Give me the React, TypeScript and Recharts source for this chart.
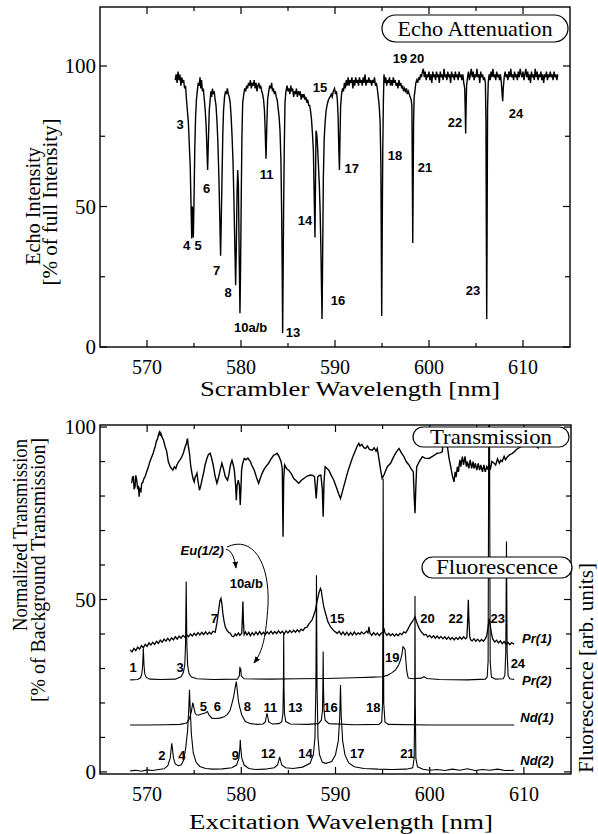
import { ComposedChart, Line, Scatter, XAxis, YAxis } from "recharts";

type Pt = [number, number];
type Tag = [number, number, string];

// ---- top panel: echo intensity vs scrambler wavelength ----
const echo: Pt[] = [
  [573.0, 95], [573.1, 97], [573.2, 94], [573.3, 98], [573.4, 95], [573.5, 97], [573.6, 93], [573.7, 96],
  [573.8, 94], [573.9, 95], [574.0, 92], [574.1, 93], [574.2, 88], [574.3, 84], [574.4, 80], [574.5, 72],
  [574.6, 64], [574.7, 48], [574.76, 38.6], [574.82, 50], [574.88, 45], [574.93, 39], [575.0, 52], [575.08, 70],
  [575.17, 82], [575.26, 88], [575.35, 91], [575.45, 94], [575.55, 93], [575.64, 96], [575.72, 92], [575.8, 95],
  [575.9, 91], [575.99, 92], [576.1, 88], [576.2, 84], [576.3, 78], [576.38, 70], [576.45, 63], [576.52, 72],
  [576.62, 84], [576.72, 88], [576.8, 91], [576.88, 89], [576.96, 92], [577.05, 90], [577.15, 91], [577.25, 88],
  [577.34, 86], [577.45, 80], [577.55, 72], [577.65, 60], [577.75, 45], [577.83, 32.5], [577.9, 45], [577.98, 60],
  [578.06, 75], [578.14, 84], [578.25, 89], [578.35, 91], [578.45, 90], [578.55, 92], [578.65, 90], [578.75, 89],
  [578.85, 87], [578.95, 82], [579.05, 75], [579.15, 66], [579.25, 52], [579.35, 35], [579.43, 22], [579.5, 35],
  [579.58, 55], [579.65, 63], [579.72, 58], [579.8, 35], [579.89, 12], [579.96, 30], [580.03, 55], [580.1, 75],
  [580.18, 87], [580.3, 90], [580.4, 92], [580.5, 91], [580.6, 93], [580.7, 92], [580.8, 94], [580.9, 93],
  [581.0, 95], [581.1, 92], [581.2, 94], [581.3, 93], [581.4, 95], [581.5, 92], [581.6, 94], [581.7, 91],
  [581.8, 93], [581.9, 94], [582.0, 92], [582.1, 93], [582.2, 91], [582.3, 90], [582.4, 88], [582.5, 84],
  [582.58, 76], [582.66, 67], [582.74, 78], [582.83, 88], [582.95, 91], [583.05, 93], [583.15, 92], [583.26, 94],
  [583.35, 91], [583.45, 92], [583.55, 90], [583.65, 91], [583.75, 89], [583.85, 88], [583.95, 85], [584.05, 82],
  [584.15, 77], [584.25, 66], [584.33, 46], [584.39, 25], [584.43, 5], [584.48, 25], [584.53, 48], [584.6, 70],
  [584.68, 87], [584.78, 91], [584.9, 93], [585.0, 91], [585.1, 92], [585.2, 90], [585.3, 93], [585.4, 91],
  [585.5, 92], [585.6, 89], [585.7, 91], [585.8, 90], [585.9, 92], [586.0, 89], [586.1, 91], [586.2, 90],
  [586.3, 91], [586.4, 88], [586.5, 90], [586.6, 89], [586.7, 90], [586.8, 88], [586.9, 89], [587.0, 87],
  [587.1, 88], [587.2, 86], [587.3, 86], [587.4, 84], [587.5, 81], [587.6, 76], [587.7, 70], [587.78, 55],
  [587.87, 39], [587.93, 60], [587.98, 77], [588.05, 76], [588.12, 73], [588.22, 66], [588.33, 58], [588.42, 48],
  [588.5, 35], [588.57, 20], [588.62, 10], [588.68, 30], [588.76, 60], [588.85, 74], [588.95, 80], [589.05, 84],
  [589.15, 86], [589.3, 88], [589.47, 89], [589.6, 90], [589.7, 89], [589.82, 91], [589.95, 92], [590.05, 90],
  [590.15, 91], [590.25, 88], [590.33, 82], [590.41, 70], [590.47, 63], [590.52, 72], [590.6, 86], [590.7, 90],
  [590.8, 92], [590.9, 91], [591.0, 94], [591.1, 92], [591.2, 95], [591.3, 93], [591.4, 96], [591.5, 93],
  [591.6, 95], [591.7, 94], [591.8, 96], [591.9, 92], [592.0, 95], [592.1, 93], [592.2, 96], [592.3, 94],
  [592.4, 95], [592.5, 93], [592.6, 96], [592.7, 94], [592.8, 95], [592.9, 93], [593.0, 96], [593.1, 94],
  [593.2, 97], [593.3, 93], [593.4, 95], [593.5, 94], [593.6, 96], [593.7, 94], [593.8, 95], [593.9, 93],
  [594.0, 95], [594.1, 94], [594.2, 96], [594.3, 93], [594.4, 94], [594.5, 92], [594.6, 89], [594.7, 86],
  [594.8, 80], [594.88, 65], [594.93, 35], [594.97, 11], [595.02, 40], [595.08, 70], [595.15, 88], [595.21, 97],
  [595.3, 94], [595.4, 96], [595.5, 93], [595.6, 95], [595.7, 94], [595.8, 96], [595.9, 93], [596.0, 95],
  [596.1, 93], [596.2, 96], [596.3, 94], [596.4, 95], [596.5, 93], [596.6, 94], [596.7, 92], [596.8, 95],
  [596.9, 93], [597.0, 94], [597.1, 92], [597.2, 93], [597.3, 91], [597.4, 92], [597.5, 91], [597.6, 92],
  [597.7, 90], [597.8, 91], [597.9, 90], [598.0, 89], [598.1, 88], [598.18, 86], [598.23, 60], [598.27, 37],
  [598.31, 55], [598.36, 80], [598.42, 89], [598.5, 91], [598.6, 94], [598.7, 95], [598.8, 94], [598.9, 96],
  [599.0, 95], [599.1, 97], [599.2, 96], [599.3, 98], [599.4, 99], [599.5, 96], [599.6, 98], [599.7, 95],
  [599.8, 97], [599.9, 96], [600.0, 98], [600.1, 95], [600.2, 97], [600.3, 94], [600.4, 98], [600.5, 96],
  [600.6, 97], [600.7, 95], [600.8, 98], [600.9, 96], [601.0, 97], [601.1, 94], [601.2, 98], [601.3, 96],
  [601.4, 97], [601.5, 95], [601.6, 99], [601.7, 96], [601.8, 97], [601.9, 95], [602.0, 98], [602.1, 96],
  [602.2, 97], [602.3, 94], [602.4, 98], [602.5, 96], [602.6, 97], [602.7, 95], [602.8, 98], [602.9, 96],
  [603.0, 97], [603.1, 95], [603.2, 98], [603.3, 96], [603.4, 97], [603.5, 95], [603.6, 97], [603.7, 94],
  [603.8, 92], [603.85, 85], [603.9, 76], [603.95, 86], [604.0, 93], [604.1, 96], [604.2, 98], [604.3, 95],
  [604.4, 97], [604.5, 99], [604.6, 96], [604.7, 98], [604.8, 95], [604.9, 97], [605.0, 96], [605.1, 99],
  [605.2, 96], [605.3, 97], [605.4, 94], [605.5, 98], [605.6, 96], [605.7, 97], [605.8, 95], [605.9, 96],
  [606.0, 94], [606.06, 80], [606.1, 40], [606.14, 10], [606.18, 40], [606.23, 85], [606.3, 94], [606.4, 97],
  [606.5, 95], [606.6, 98], [606.7, 96], [606.8, 99], [606.9, 96], [607.0, 97], [607.1, 95], [607.2, 98],
  [607.3, 96], [607.4, 97], [607.5, 95], [607.6, 97], [607.7, 94], [607.78, 90], [607.84, 87.5], [607.9, 92],
  [608.0, 96], [608.1, 98], [608.2, 96], [608.3, 97], [608.4, 95], [608.5, 98], [608.6, 96], [608.7, 99],
  [608.8, 96], [608.9, 97], [609.0, 95], [609.1, 98], [609.2, 96], [609.3, 97], [609.4, 95], [609.5, 98],
  [609.6, 96], [609.7, 99], [609.8, 97], [609.9, 96], [610.0, 98], [610.1, 95], [610.2, 97], [610.3, 99],
  [610.4, 96], [610.5, 98], [610.6, 95], [610.7, 97], [610.8, 94], [610.9, 98], [611.0, 96], [611.1, 97],
  [611.2, 95], [611.3, 99], [611.4, 96], [611.5, 98], [611.6, 95], [611.7, 97], [611.8, 96], [611.9, 98],
  [612.0, 95], [612.1, 97], [612.2, 94], [612.3, 97], [612.4, 96], [612.5, 98], [612.6, 95], [612.7, 97],
  [612.8, 96], [612.9, 98], [613.0, 96], [613.1, 97], [613.2, 95], [613.3, 98], [613.4, 96], [613.5, 97],
  [613.6, 95], [613.7, 97],
];

const echoTags: Tag[] = [
  [573.51, 79.4, "3"], [574.22, 36.3, "4"], [575.43, 36.3, "5"], [576.35, 56.6, "6"], [577.41, 27.4, "7"],
  [578.62, 19.6, "8"], [581.03, 7.1, "10a/b"], [582.73, 61.6, "11"], [585.53, 5.3, "13"], [586.81, 45.2, "14"],
  [588.4, 92.5, "15"], [590.32, 16.7, "16"], [591.78, 63.7, "17"], [596.38, 68.3, "18"], [596.91, 102.8, "19"],
  [598.72, 102.8, "20"], [599.57, 64.1, "21"], [602.77, 80.1, "22"], [604.68, 20.3, "23"], [609.26, 83.3, "24"],
];

// ---- bottom panel: transmission and fluorescence traces ----
const transmission: Pt[] = [
  [568.37, 83.7], [568.45, 85.5], [568.55, 85.6], [568.62, 82], [568.72, 82.7], [568.8, 86], [568.9, 84.6],
  [569.0, 82], [569.08, 83], [569.15, 79.8], [569.25, 82], [569.35, 81.5], [569.43, 83.7], [569.55, 84],
  [569.65, 85], [569.79, 85.6], [569.95, 87], [570.14, 88.5], [570.3, 90], [570.5, 91.4], [570.65, 92.5],
  [570.85, 94.3], [571.0, 96], [571.1, 96.5], [571.2, 97.7], [571.3, 98.5], [571.4, 97.5], [571.46, 98.2],
  [571.6, 97], [571.74, 96.2], [571.9, 94.5], [572.09, 92.8], [572.25, 90], [572.45, 88.5], [572.6, 88],
  [572.73, 87.5], [572.9, 88.5], [573.05, 88], [573.16, 89], [573.35, 90], [573.5, 90.5], [573.69, 91.4],
  [573.85, 92.5], [574.04, 94.3], [574.15, 95], [574.29, 96.7], [574.35, 95], [574.5, 92.4], [574.62, 89],
  [574.76, 86.6], [574.88, 85], [575.0, 84.1], [575.1, 85.5], [575.2, 86], [575.29, 86.6], [575.42, 84],
  [575.56, 81.7], [575.7, 83], [575.85, 85], [575.99, 86.6], [576.15, 89], [576.35, 90.9], [576.5, 92],
  [576.7, 92.4], [576.85, 91], [577.05, 88.5], [577.2, 86], [577.41, 83.7], [577.55, 85], [577.68, 86.6],
  [577.8, 88], [577.94, 89.5], [578.1, 88], [578.3, 85.6], [578.54, 84.6], [578.7, 86.5], [578.85, 89],
  [579.01, 90.4], [579.15, 89], [579.26, 87.5], [579.4, 83], [579.47, 78.8], [579.55, 83], [579.68, 84.6],
  [579.8, 83], [579.89, 77.4], [579.96, 82], [580.03, 87.5], [580.15, 89.5], [580.32, 90.9], [580.5, 90.5],
  [580.7, 91], [580.96, 90], [581.1, 89], [581.38, 87.5], [581.6, 85.5], [581.84, 83.7], [582.0, 85],
  [582.2, 86.5], [582.37, 87.5], [582.6, 88.5], [582.9, 89.5], [583.1, 90.5], [583.44, 91.9], [583.6, 92],
  [583.8, 92.4], [584.0, 91.5], [584.22, 90], [584.35, 88], [584.43, 68.2], [584.5, 85], [584.6, 89],
  [584.8, 88], [585.03, 87.5], [585.3, 86.5], [585.57, 85.1], [585.8, 84.5], [586.1, 83.7], [586.35, 84.5],
  [586.63, 85.1], [587.0, 85.8], [587.34, 86.1], [587.6, 86], [587.77, 85.6], [587.88, 82], [587.95, 79.3],
  [588.02, 82], [588.12, 85.6], [588.3, 86], [588.45, 86.1], [588.6, 82], [588.69, 74], [588.78, 84],
  [588.9, 88.5], [589.1, 88], [589.29, 87.5], [589.55, 86], [589.82, 84.6], [590.1, 82.5], [590.35, 80.5],
  [590.53, 79.3], [590.75, 81.5], [591.06, 84.6], [591.3, 87], [591.6, 89.5], [591.85, 91.5], [592.13, 93.3],
  [592.3, 94.5], [592.48, 95.3], [592.6, 94.5], [592.8, 95], [593.0, 94], [593.19, 93.8], [593.4, 94.5],
  [593.6, 93.5], [593.9, 93.3], [594.1, 94], [594.3, 93], [594.43, 93.8], [594.6, 91], [594.79, 87.5],
  [594.95, 85.1], [595.14, 86.1], [595.35, 87.5], [595.5, 88.5], [595.85, 89.5], [596.1, 91], [596.4, 92.5],
  [596.74, 93.8], [597.0, 92.5], [597.27, 91.4], [597.5, 90], [597.8, 89], [598.0, 88], [598.26, 87],
  [598.35, 80], [598.44, 75], [598.52, 82], [598.62, 88.5], [598.9, 90], [599.22, 91.4], [599.5, 91],
  [599.93, 90.9], [600.3, 91.5], [600.8, 92.4], [601.1, 92.5], [601.33, 92.8], [601.45, 96], [601.52, 100],
  [601.6, 99], [601.88, 94.3], [602.05, 91], [602.23, 88.5], [602.4, 86], [602.58, 84.1], [602.7, 87],
  [602.8, 85.5], [602.94, 88.5], [603.05, 87], [603.2, 90.5], [603.3, 88.5], [603.47, 91.4], [603.6, 89],
  [603.75, 91.5], [603.9, 88.5], [604.0, 90], [604.15, 88], [604.3, 90.5], [604.45, 88], [604.6, 90],
  [604.7, 88], [604.85, 89.5], [605.0, 87.5], [605.15, 89.5], [605.3, 87.5], [605.43, 89], [605.6, 87],
  [605.75, 89], [605.9, 87], [606.05, 88.5], [606.13, 88], [606.3, 89], [606.45, 88], [606.6, 90],
  [606.84, 89.5], [607.0, 89], [607.2, 90.8], [607.4, 89.5], [607.55, 90.4], [607.7, 90], [607.9, 91.5],
  [608.05, 90.5], [608.26, 91.4], [608.5, 92], [608.7, 92.2], [608.97, 92.8], [609.2, 93.5], [609.5, 94],
  [609.8, 94.5], [610.0, 94.8], [610.3, 95], [610.6, 94.5], [610.8, 95.5], [611.1, 95.3], [611.3, 94.5],
  [611.6, 93.8],
];

const pr1: Pt[] = [
  [568.2, 35.4], [568.4, 34.8], [568.6, 35.8], [568.8, 35.2], [569.0, 36.2], [569.2, 35.6], [569.4, 36.6],
  [569.6, 36], [569.8, 37], [570.0, 36.4], [570.2, 37.4], [570.4, 36.8], [570.6, 37.6], [570.8, 37],
  [571.0, 37.9], [571.2, 37.3], [571.4, 38.2], [571.6, 37.6], [571.8, 38.5], [572.0, 37.9], [572.2, 38.7],
  [572.4, 38], [572.6, 38.9], [572.8, 38.3], [573.0, 39.2], [573.2, 38.5], [573.4, 39.4], [573.6, 38.8],
  [573.8, 39.6], [574.0, 39.1], [574.2, 39.8], [574.4, 39.2], [574.6, 40], [574.8, 39.4], [575.0, 40.2],
  [575.2, 39.6], [575.4, 40.4], [575.6, 39.7], [575.8, 40.5], [576.0, 39.8], [576.2, 40.6], [576.4, 39.9],
  [576.6, 40.5], [576.8, 40], [577.0, 40.8], [577.23, 40.5], [577.4, 43], [577.6, 47], [577.72, 49.5],
  [577.84, 50.3], [577.95, 48.5], [578.04, 46], [578.15, 44], [578.3, 42], [578.5, 41], [578.65, 40.5],
  [578.83, 40.2], [579.0, 39.4], [579.18, 39.2], [579.35, 40], [579.5, 39.5], [579.7, 40.3], [579.85, 39.6],
  [580.05, 40.2], [580.12, 45], [580.17, 49.4], [580.22, 44], [580.3, 39.8], [580.45, 40.6], [580.6, 39.7],
  [580.8, 40.5], [580.96, 39.5], [581.15, 40.4], [581.35, 39.7], [581.55, 40.6], [581.75, 39.8], [581.95, 40.7],
  [582.15, 39.9], [582.35, 40.5], [582.55, 39.8], [582.75, 40.6], [582.95, 40], [583.15, 40.8], [583.35, 40],
  [583.55, 40.7], [583.75, 40.1], [583.95, 40.9], [584.15, 40.2], [584.35, 40.8], [584.55, 40], [584.75, 40.9],
  [584.95, 40.3], [585.15, 41], [585.35, 40.4], [585.55, 41.1], [585.75, 40.5], [585.95, 41.2], [586.15, 40.6],
  [586.35, 41.4], [586.55, 41], [586.75, 41.8], [586.98, 42], [587.2, 43], [587.5, 44], [587.7, 45.5],
  [587.87, 47], [588.05, 49.5], [588.23, 51.8], [588.4, 53.2], [588.5, 52.5], [588.58, 50.8], [588.75, 48],
  [588.94, 46], [589.2, 43.5], [589.47, 42.1], [589.8, 41], [590.18, 40.2], [590.4, 40.8], [590.6, 39.8],
  [590.8, 40.6], [591.0, 39.7], [591.2, 40.5], [591.4, 39.6], [591.6, 40.4], [591.8, 39.7], [592.0, 40.6],
  [592.2, 39.8], [592.4, 40.3], [592.6, 39.9], [592.75, 40.6], [593.0, 40], [593.3, 40.8], [593.45, 40.3],
  [593.55, 42.1], [593.65, 40.3], [593.85, 39.6], [594.05, 40.4], [594.25, 39.7], [594.45, 40.3], [594.65, 39.5],
  [594.85, 40.2], [595.05, 40.6], [595.14, 41.7], [595.25, 40.4], [595.45, 39.6], [595.65, 40.2], [595.85, 39.5],
  [596.05, 40.1], [596.25, 39.4], [596.45, 40], [596.65, 39.5], [596.85, 40.2], [597.05, 39.8], [597.25, 40.6],
  [597.45, 40.3], [597.65, 41.2], [597.85, 42.3], [598.0, 43], [598.15, 43.6], [598.3, 44.2], [598.44, 45],
  [598.55, 44], [598.7, 42.8], [598.87, 41.7], [599.05, 40.8], [599.2, 40.3], [599.4, 39.7], [599.6, 39.9],
  [599.8, 39.1], [600.0, 39.6], [600.2, 38.9], [600.4, 39.5], [600.6, 38.8], [600.8, 39.4], [601.0, 38.7],
  [601.2, 39.3], [601.4, 38.6], [601.6, 39.2], [601.8, 38.5], [602.0, 39.1], [602.2, 38.4], [602.4, 39],
  [602.6, 38.3], [602.8, 39], [603.0, 38.4], [603.2, 39.1], [603.4, 38.5], [603.6, 39.2], [603.8, 38.6],
  [603.95, 39], [604.05, 45], [604.1, 49.9], [604.15, 45], [604.25, 39.2], [604.35, 38.3], [604.5, 38],
  [604.7, 38.6], [604.9, 37.9], [605.1, 38.5], [605.3, 37.8], [605.5, 38.4], [605.7, 37.9], [605.9, 38.6],
  [606.05, 39.5], [606.2, 42], [606.3, 44.5], [606.4, 43], [606.55, 40.2], [606.7, 38.5], [606.9, 37.7],
  [607.1, 38.2], [607.3, 37.4], [607.5, 38], [607.7, 37.2], [607.9, 37.8], [608.1, 37], [608.3, 37.6],
  [608.5, 36.9], [608.7, 37.5], [608.97, 37],
];

const pr2: Pt[] = [
  [568.2, 26.7], [569.0, 26.8], [569.3, 27.3], [569.45, 28.5], [569.53, 31], [569.6, 35.8], [569.67, 31],
  [569.75, 28.5], [569.9, 27.4], [570.3, 26.9], [571.5, 26.8], [573.0, 26.9], [573.6, 27.6], [573.85, 28.8],
  [574.0, 31], [574.08, 37], [574.15, 55.2], [574.22, 37], [574.3, 31], [574.45, 28.5], [574.7, 27.5],
  [575.3, 27], [577.0, 26.8], [579.6, 26.9], [579.8, 28], [579.85, 30.5], [579.89, 29], [579.94, 30],
  [580.0, 27.8], [580.3, 27], [583.0, 26.9], [586.0, 27], [589.0, 27.1], [592.0, 27.3], [594.0, 27.5],
  [595.0, 27.6], [595.5, 28], [596.0, 28.8], [596.38, 29.6], [596.7, 31], [596.91, 32.5], [597.05, 34],
  [597.16, 36.3], [597.27, 36], [597.38, 35.5], [597.48, 32], [597.55, 29.6], [597.65, 28], [597.73, 27.2],
  [598.2, 27], [599.1, 27.2], [599.4, 27.6], [599.7, 27.1], [601.0, 26.8], [604.0, 26.7], [605.9, 26.9],
  [606.1, 27.5], [606.2, 32], [606.25, 80], [606.28, 130], [606.34, 130], [606.37, 80], [606.42, 32],
  [606.55, 27.5], [607.0, 26.9], [607.8, 27], [607.98, 28], [608.08, 35], [608.15, 66.8], [608.22, 35],
  [608.32, 28], [608.5, 27], [608.97, 26.8],
];

const nd1: Pt[] = [
  [568.2, 13.6], [570.0, 13.6], [572.0, 13.7], [573.5, 13.8], [574.2, 14.2], [574.5, 15.5], [574.7, 17.5],
  [574.85, 20.1], [574.98, 18.5], [575.1, 17], [575.28, 16.5], [575.5, 16.5], [575.8, 16.8], [576.1, 17],
  [576.3, 17.3], [576.41, 17.5], [576.55, 16.6], [576.87, 15.6], [577.3, 15.5], [577.7, 15.6], [578.12, 15.9],
  [578.5, 16.6], [578.8, 17.8], [579.01, 19.9], [579.2, 22], [579.35, 24.5], [579.47, 26.2], [579.58, 23.5],
  [579.7, 20.5], [579.82, 18.9], [580.05, 16.5], [580.43, 14.6], [581.0, 14], [581.67, 13.8], [582.3, 13.9],
  [582.55, 14.5], [582.65, 16], [582.73, 17], [582.81, 16], [582.92, 14.5], [583.3, 13.9], [584.0, 14],
  [584.3, 14.6], [584.42, 17], [584.47, 25], [584.5, 40.2], [584.53, 25], [584.58, 17], [584.72, 14.6],
  [585.2, 13.9], [587.0, 13.8], [588.2, 14], [588.5, 15], [588.62, 18], [588.66, 25], [588.69, 34.9],
  [588.72, 25], [588.78, 18], [588.9, 15], [589.3, 14], [592.0, 13.7], [594.6, 13.8], [594.9, 14.5],
  [595.0, 20], [595.03, 50], [595.06, 85], [595.09, 50], [595.12, 20], [595.25, 14.5], [595.6, 13.8],
  [600.0, 13.6], [605.0, 13.6], [608.97, 13.6],
];

const nd2: Pt[] = [
  [568.2, 0.3], [568.8, 0.5], [569.4, 0.2], [570.0, 0.6], [570.6, 0.4], [571.2, 0.7], [571.8, 0.9],
  [572.2, 1.8], [572.45, 4], [572.55, 6.5], [572.62, 8.3], [572.7, 6.5], [572.8, 4], [573.0, 2.3],
  [573.3, 1.8], [573.6, 2], [573.9, 3.5], [574.1, 7], [574.3, 12], [574.42, 18], [574.5, 23.8],
  [574.58, 18], [574.7, 11], [574.9, 5.5], [575.2, 2.8], [575.6, 1.6], [576.2, 1], [577.0, 0.8],
  [578.0, 0.9], [579.0, 1.2], [579.5, 2], [579.75, 4], [579.85, 7], [579.89, 9.3], [579.94, 7],
  [580.05, 4], [580.3, 2], [580.8, 1], [581.5, 0.7], [582.5, 0.8], [583.5, 1.2], [583.85, 2],
  [584.0, 3.5], [584.07, 4.4], [584.15, 3.5], [584.3, 2], [584.7, 1.2], [585.5, 1], [586.5, 1.4],
  [587.3, 2.5], [587.65, 5], [587.82, 10], [587.92, 25], [587.98, 57], [588.04, 25], [588.14, 10],
  [588.3, 5], [588.6, 2.8], [589.0, 2.5], [589.6, 3], [590.0, 5], [590.3, 9], [590.45, 16],
  [590.53, 25.2], [590.61, 16], [590.76, 9], [591.0, 5], [591.4, 2.6], [592.0, 1.5], [593.0, 1],
  [594.5, 0.8], [596.0, 0.7], [597.5, 0.8], [598.2, 1.2], [598.35, 4], [598.41, 20], [598.44, 51],
  [598.47, 20], [598.53, 4], [598.7, 1.5], [599.3, 0.8], [600.0, 0.5], [600.8, 0.7], [601.6, 0.4],
  [602.4, 0.8], [603.2, 0.5], [604.0, 0.9], [604.8, 0.4], [605.6, 0.7], [606.4, 0.5], [607.2, 0.8],
  [608.0, 0.4], [608.97, 0.5],
];

const lineTags: Tag[] = [
  [577.13, 44.6, "7"], [580.53, 54.8, "10a/b"], [568.51, 30.4, "1"], [573.51, 30.4, "3"], [575.96, 19.1, "5"],
  [577.45, 19.1, "6"], [580.64, 19.1, "8"], [583.09, 18.8, "11"], [585.74, 18.8, "13"], [589.47, 18.8, "16"],
  [594.01, 18.8, "18"], [571.56, 4.9, "2"], [573.69, 4.9, "4"], [579.36, 4.9, "9"], [582.87, 5.5, "12"],
  [586.81, 5.5, "14"], [592.31, 5.5, "17"], [597.63, 5.5, "21"], [590.18, 44.6, "15"], [596.03, 33.3, "19"],
  [599.76, 44.6, "20"], [602.77, 44.6, "22"], [607.23, 44.6, "23"], [609.36, 31.6, "24"],
];

const seriesTags: Tag[] = [
  [575.85, 64.3, "Eu(1/2)"], [611.38, 38.8, "Pr(1)"], [611.38, 26.7, "Pr(2)"],
  [611.38, 15.9, "Nd(1)"], [611.38, 3.5, "Nd(2)"],
];

const xTicks = [570, 575, 580, 585, 590, 595, 600, 605, 610];
const echoTicks = [0, 25, 50, 75, 100];
const transTicks = [0, 10, 20, 30, 40, 50, 60, 70, 80, 90, 100];
const labelled = [0, 50, 100];

const SERIF = "'Liberation Serif', 'Times New Roman', Times, 'Nimbus Roman', 'DejaVu Serif', serif";
const SANS = "'Liberation Sans', Arial, Helvetica, sans-serif";

const rows = (pts: Pt[]) => pts.map(([x, y]) => ({ x, y }));
const tagRows = (tags: Tag[]) => tags.map(([x, y, t]) => ({ x, y, t }));

// x ticks point inwards; the mirrored tick on the top frame is drawn from the same spot
function BottomTick({ x, y, payload, span }: any) {
  const major = payload.value % 10 === 0;
  const len = major ? 7 : 4;
  return (
    <g>
      <line x1={x} x2={x} y1={y} y2={y - len} stroke="#000" strokeWidth={1.2} />
      <line x1={x} x2={x} y1={y - span} y2={y - span + len} stroke="#000" strokeWidth={1.2} />
      {major && (
        <text x={x} y={y + 27} textAnchor="middle" fontSize={20} fontFamily={SERIF} fill="#000">
          {payload.value}
        </text>
      )}
    </g>
  );
}

function LeftTick({ x, y, payload, span }: any) {
  const major = labelled.includes(payload.value);
  const len = major ? 7 : 5;
  return (
    <g>
      <line x1={x} x2={x + len} y1={y} y2={y} stroke="#000" strokeWidth={1.2} />
      <line x1={x + span} x2={x + span - len} y1={y} y2={y} stroke="#000" strokeWidth={1.2} />
      {major && (
        <text x={x - 4} y={y + 7} textAnchor="end" fontSize={21} fontFamily={SERIF} fill="#000">
          {payload.value}
        </text>
      )}
    </g>
  );
}

function NumTag(p: any) {
  return (
    <text x={p.cx} y={p.cy + 5} textAnchor="middle" fontSize={13} fontWeight="bold" fontFamily={SANS} fill="#000">
      {p.payload.t}
    </text>
  );
}

function SeriesTag(p: any) {
  return (
    <text x={p.cx} y={p.cy + 5} textAnchor="middle" fontSize={13} fontWeight="bold" fontStyle="italic" fontFamily={SANS} fill="#000">
      {p.payload.t}
    </text>
  );
}

function axes(yDomain: [number, number], yTicks: number[], w: number, h: number) {
  return [
    <XAxis key="xb" xAxisId="b" dataKey="x" type="number" domain={[565, 615]} ticks={xTicks} interval={0}
      allowDataOverflow height={30} tickSize={0} tickMargin={0} tickLine={false} axisLine={false}
      tick={<BottomTick span={h} />} />,
    <YAxis key="yl" yAxisId="l" dataKey="y" type="number" domain={yDomain} ticks={yTicks} interval={0}
      allowDataOverflow width={60} tickSize={0} tickMargin={0} tickLine={false} axisLine={false}
      tick={<LeftTick span={w} />} />,
  ];
}

function trace(key: string, pts: Pt[], w: number) {
  return (
    <Line key={key} xAxisId="b" yAxisId="l" data={rows(pts)} dataKey="y" type="linear" stroke="#000"
      strokeWidth={w} dot={false} activeDot={false} isAnimationActive={false} />
  );
}

export default function App() {
  return (
    <div style={{ position: "absolute", left: 0, top: 0, width: 598, height: 834, background: "#fff" }}>
      <div style={{ position: "absolute", left: 0, top: 0 }}>
        <ComposedChart width={598} height={380} margin={{ top: 7, right: 28, bottom: 3, left: 40 }}>
          {axes([0, 121], echoTicks, 470, 340)}
          {trace("echo", echo, 1.4)}
          <Scatter xAxisId="b" yAxisId="l" data={tagRows(echoTags)} dataKey="y" shape={NumTag} isAnimationActive={false} />
        </ComposedChart>
      </div>
      <div style={{ position: "absolute", left: 0, top: 400 }}>
        <ComposedChart width={598} height={434} margin={{ top: 25, right: 27, bottom: 30, left: 40 }}>
          {axes([-0.6, 100.6], transTicks, 471, 349)}
          {trace("trans", transmission, 1.4)}
          {trace("pr1", pr1, 1.3)}
          {trace("pr2", pr2, 1.1)}
          {trace("nd1", nd1, 1.1)}
          {trace("nd2", nd2, 1.1)}
          <Scatter xAxisId="b" yAxisId="l" data={tagRows(lineTags)} dataKey="y" shape={NumTag} isAnimationActive={false} />
          <Scatter xAxisId="b" yAxisId="l" data={tagRows(seriesTags)} dataKey="y" shape={SeriesTag} isAnimationActive={false} />
        </ComposedChart>
      </div>
      <svg width={598} height={834} style={{ position: "absolute", left: 0, top: 0, pointerEvents: "none" }}>
        <defs>
          <marker id="ah" viewBox="0 0 10 10" refX="9" refY="5" markerWidth="7" markerHeight="7" orient="auto">
            <path d="M0,1 L10,5 L0,9 z" fill="#000" />
          </marker>
        </defs>
        <rect x={100} y={7} width={470} height={340} fill="none" stroke="#000" strokeWidth={1.4} />
        <rect x={100} y={425} width={471} height={349} fill="none" stroke="#000" strokeWidth={1.4} />
        <g fontFamily={SERIF} fill="#000">
          <text transform="translate(40,206) rotate(-90)" textAnchor="middle" fontSize={20} textLength={118} lengthAdjust="spacingAndGlyphs">Echo Intensity</text>
          <text transform="translate(57,202) rotate(-90)" textAnchor="middle" fontSize={20} textLength={167} lengthAdjust="spacingAndGlyphs">[% of full Intensity]</text>
          <text x={350} y={396} textAnchor="middle" fontSize={20} textLength={300} lengthAdjust="spacingAndGlyphs">Scrambler Wavelength [nm]</text>
          <text transform="translate(27,535) rotate(-90)" textAnchor="middle" fontSize={20} textLength={192} lengthAdjust="spacingAndGlyphs">Normalized Transmission</text>
          <text transform="translate(45,570) rotate(-90)" textAnchor="middle" fontSize={20} textLength={264} lengthAdjust="spacingAndGlyphs">[% of Background Transmission]</text>
          <text x={341} y={829} textAnchor="middle" fontSize={20} textLength={304} lengthAdjust="spacingAndGlyphs">Excitation Wavelength [nm]</text>
          <text transform="translate(593,668) rotate(-90)" textAnchor="middle" fontSize={20} textLength={210} lengthAdjust="spacingAndGlyphs">Fluorescence [arb. units]</text>
        </g>
        <g fontFamily={SERIF} fontSize={21} fill="#000">
          <rect x={382} y={15} width={186} height={27} rx={13.5} fill="#fff" stroke="#000" strokeWidth={1.2} />
          <text x={475} y={36} textAnchor="middle" textLength={155} lengthAdjust="spacingAndGlyphs">Echo Attenuation</text>
          <rect x={413} y={427} width={156} height={20} rx={10} fill="#fff" stroke="#000" strokeWidth={1.2} />
          <text x={491} y={443.5} textAnchor="middle" textLength={122} lengthAdjust="spacingAndGlyphs">Transmission</text>
          <rect x={422} y={557} width={150} height={21} rx={10.5} fill="#fff" stroke="#000" strokeWidth={1.2} />
          <text x={497} y={574} textAnchor="middle" textLength={122} lengthAdjust="spacingAndGlyphs">Fluorescence</text>
        </g>
        <g fill="none" stroke="#000" strokeWidth={1}>
          <path d="M 226 549 Q 234 551 236 568" markerEnd="url(#ah)" />
          <path d="M 227 547 C 252 535, 270 562, 268 605 C 266 636, 263 651, 254 663" markerEnd="url(#ah)" />
        </g>
      </svg>
    </div>
  );
}
